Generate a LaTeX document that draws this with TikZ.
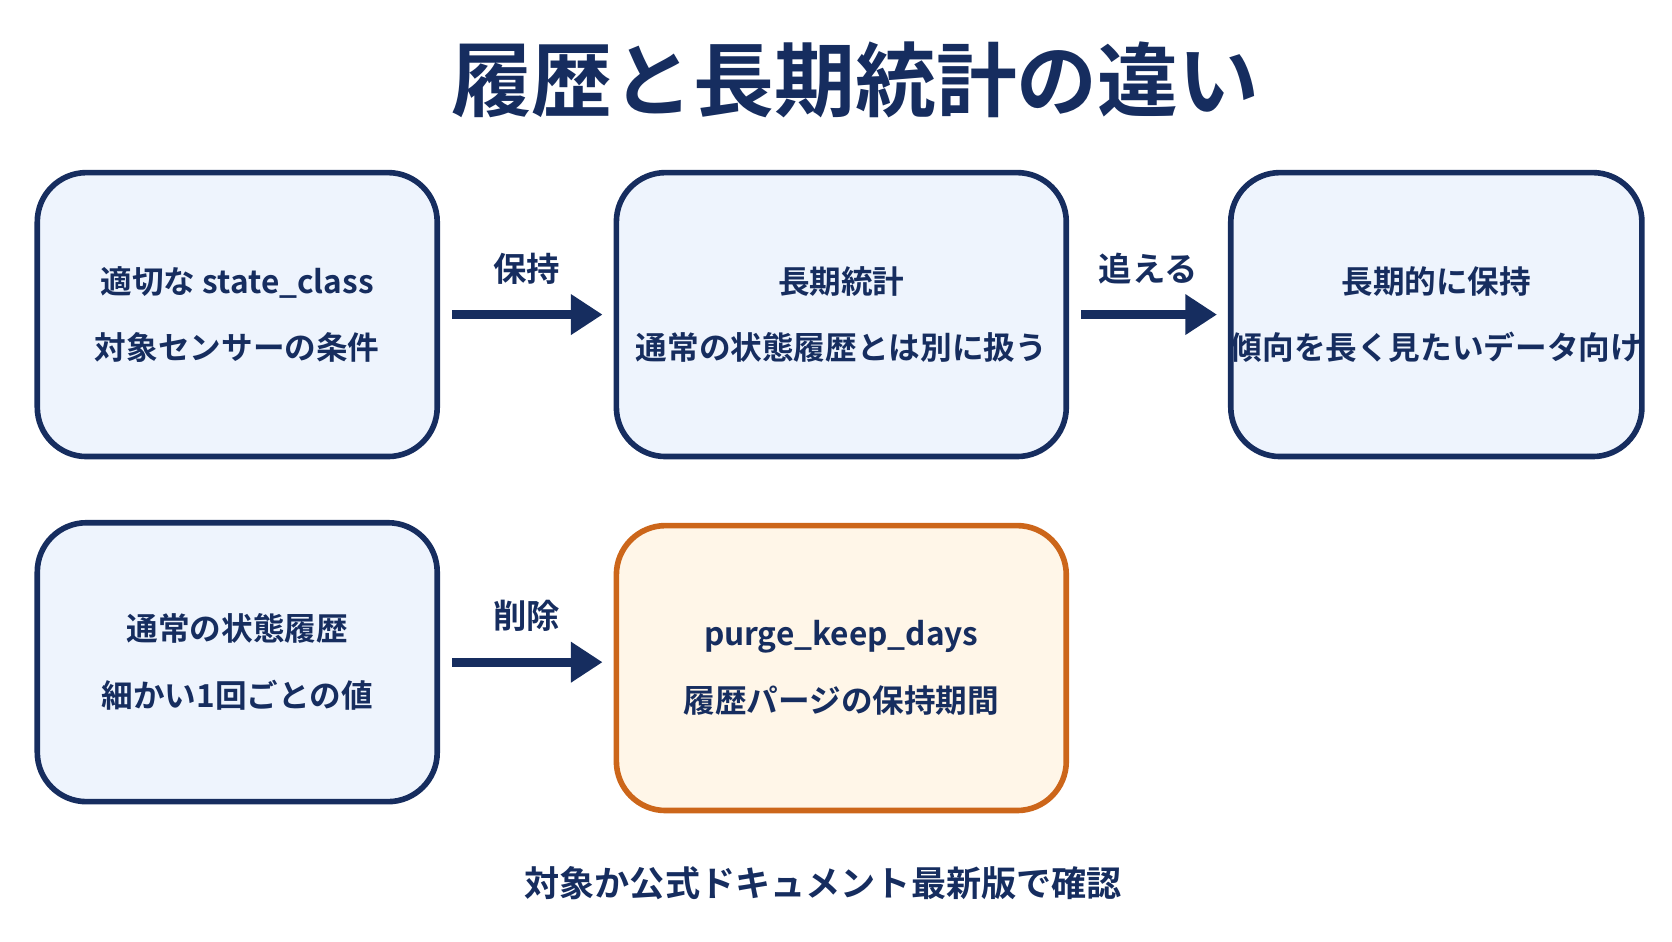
\documentclass[tikz,border=0pt]{standalone}
\usepackage{fontspec}
\setmainfont{Noto Sans CJK JP}[BoldFont={* Bold}]
\usetikzlibrary{arrows.meta}
\definecolor{NavyBlue}{RGB}{22,45,95}
\definecolor{BoxFill}{RGB}{238,244,253}
\definecolor{KeepOrange}{RGB}{204,102,26}
\definecolor{KeepFill}{RGB}{255,246,232}
\tikzset{
  box/.style={rectangle, rounded corners=14pt, draw=NavyBlue, fill=BoxFill, line width=1.6pt, align=center, font=\fontsize{9}{19}\selectfont\bfseries, text=NavyBlue, inner xsep=0pt, minimum width=4cm, minimum height=2.84cm},
  keep/.style={box, draw=KeepOrange, fill=KeepFill, minimum width=4.5cm, minimum height=2.85cm},
  arrow/.style={line width=2.6pt, draw=NavyBlue, -{Triangle[length=9pt,width=11pt]}, shorten <=0.12cm, shorten >=0.11cm},
  lbl/.style={font=\fontsize{9.5}{12}\selectfont\bfseries, text=NavyBlue}
}
\begin{document}
\begin{tikzpicture}[x=0.01066cm, y=-0.01066cm]
\useasboundingbox (0,0) rectangle (1568,882.5);

% Titel
\node (title) [font=\fontsize{23}{28}\selectfont\bfseries, text=NavyBlue] at (802,75) {履歴と長期統計の違い};

% Obere Reihe
\node (cond) [box] at (222.5,295) {適切な state\_class\\対象センサーの条件};
\node (stats) [box, minimum width=4.5cm] at (789,295) {長期統計\\通常の状態履歴とは別に扱う};
\node (longterm) [box, minimum width=4.03cm] at (1347,295) {長期的に保持\\傾向を長く見たいデータ向け};

% Untere Reihe
\node (hist) [box, minimum height=2.79cm] at (222.5,621) {通常の状態履歴\\細かい1回ごとの値};
\node (purge) [keep] at (789,626.5) {purge\_keep\_days\\履歴パージの保持期間};

% Pfeile
\draw [arrow] (cond) -- (stats) node[lbl, midway, above=4pt] {保持};
\draw [arrow] (stats) -- (longterm) node[lbl, midway, above=4pt] {追える};
\draw [arrow] (hist.east) -- (hist.east -| purge.west) node[lbl, midway, above=4pt] {削除};

% Fusszeile
\node (note) [lbl, font=\fontsize{10}{14}\selectfont\bfseries] at (772,828) {対象か公式ドキュメント最新版で確認};
\end{tikzpicture}
\end{document}
